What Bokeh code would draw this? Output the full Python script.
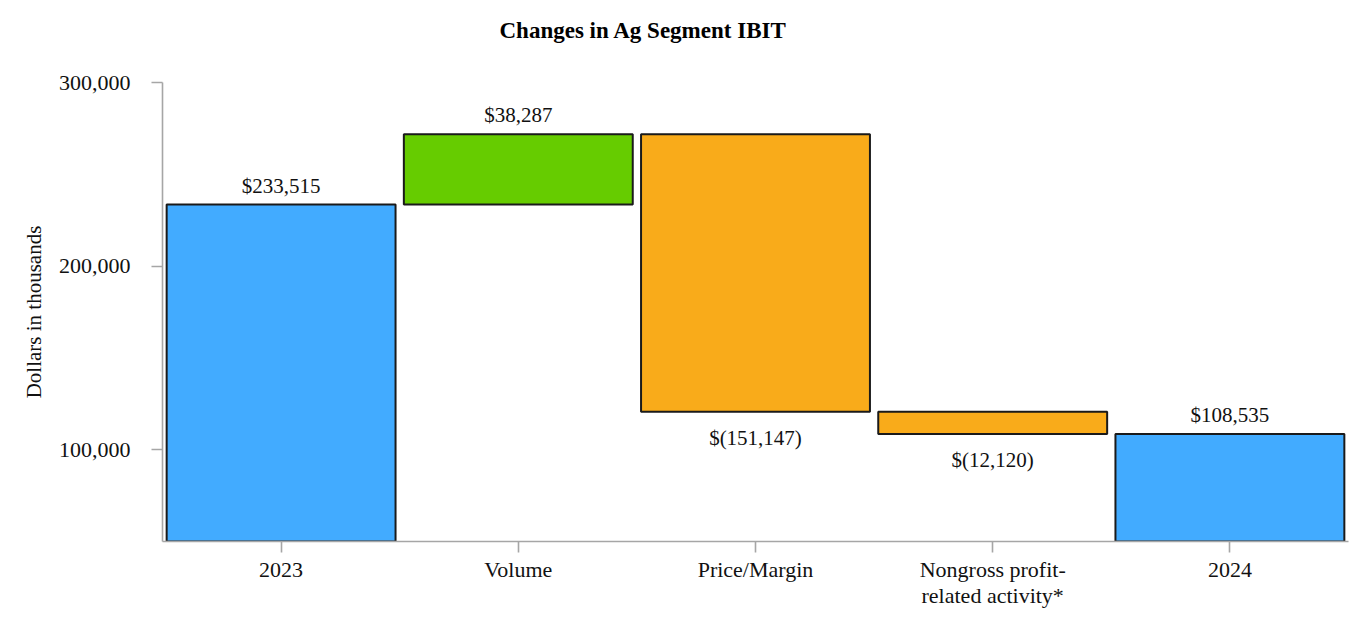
import numpy as np
from bokeh.plotting import figure
from bokeh.models import (ColumnDataSource, FactorRange, Range1d, FixedTicker,
                          NumeralTickFormatter, LabelSet)
from bokeh.embed import file_html
from bokeh.resources import INLINE

# ---------------- data ----------------
categories = ["2023", "Volume", "Price/Margin", "Nongross profit-\nrelated activity*", "2024"]
values = [233515, 38287, -151147, -12120, 108535]
is_total = [True, False, False, False, True]
y_ticks = [100000, 200000, 300000]

# ---------------- styles ----------------
COLOR_TOTAL = "#42ABFF"
COLOR_UP = "#66CC00"
COLOR_DOWN = "#F9AB1A"
FONT = "Liberation Serif"

# ---------------- waterfall ----------------
bottoms, tops, colors, texts, up = [], [], [], [], []
running = 0
for v, t in zip(values, is_total):
    if t:
        b, e = 0, v
        running = v
        colors.append(COLOR_TOTAL)
    else:
        b, e = running, running + v
        running = e
        colors.append(COLOR_UP if v >= 0 else COLOR_DOWN)
    bottoms.append(min(b, e))
    tops.append(max(b, e))
    texts.append("${:,}".format(v) if v >= 0 else "$({:,})".format(-v))
    up.append(v >= 0)

src = ColumnDataSource(dict(cat=categories, bottom=bottoms, top=tops, color=colors))

up_src = ColumnDataSource(dict(
    cat=[c for c, u in zip(categories, up) if u],
    y=[t for t, u in zip(tops, up) if u],
    text=[s for s, u in zip(texts, up) if u],
))
dn_src = ColumnDataSource(dict(
    cat=[c for c, u in zip(categories, up) if not u],
    y=[b for b, u in zip(bottoms, up) if not u],
    text=[s for s, u in zip(texts, up) if not u],
))

p = figure(width=1352, height=618, output_backend="svg", toolbar_location=None,
           x_range=FactorRange(factors=categories, range_padding=0),
           y_range=Range1d(50000, 300000),
           min_border_left=162, min_border_right=4, min_border_top=81,
           min_border_bottom=77)

p.vbar(x="cat", bottom="bottom", top="top", width=0.965, source=src,
       fill_color="color", line_color="#1a1a1a", line_width=2)

p.add_layout(LabelSet(x="cat", y="y", text="text", source=up_src,
                      y_offset=12, text_align="center", text_baseline="alphabetic",
                      text_font=FONT, text_font_size="21px", text_color="#111111"))
p.add_layout(LabelSet(x="cat", y="y", text="text", source=dn_src,
                      y_offset=-14, text_align="center", text_baseline="top",
                      text_font=FONT, text_font_size="21px", text_color="#111111"))

p.title.text = "Changes in Ag Segment IBIT\n\u00a0"
p.title.align = "left"
p.title.offset = 337
p.title.text_font = FONT
p.title.text_font_size = "23px"
p.title.text_font_style = "bold"
p.title.text_color = "#000000"
p.title.standoff = 30

p.outline_line_color = None
p.xgrid.grid_line_color = None
p.ygrid.grid_line_color = None

for ax in (p.xaxis[0], p.yaxis[0]):
    ax.axis_line_color = "#A6A6A6"
    ax.axis_line_width = 1.6
    ax.major_tick_line_color = "#A6A6A6"
    ax.major_tick_line_width = 1.6
    ax.major_tick_in = 0
    ax.major_tick_out = 11
    ax.minor_tick_line_color = None
    ax.major_label_text_font = FONT
    ax.major_label_text_font_size = "22px"
    ax.major_label_text_color = "#111111"

p.yaxis.ticker = FixedTicker(ticks=y_ticks)
p.yaxis.formatter = NumeralTickFormatter(format="0,0")
p.yaxis.major_label_standoff = 21
p.yaxis.axis_label = "Dollars in thousands"
p.yaxis.axis_label_text_font = FONT
p.yaxis.axis_label_text_font_size = "21px"
p.yaxis.axis_label_text_font_style = "normal"
p.yaxis.axis_label_text_color = "#111111"
p.yaxis.axis_label_standoff = 10

p.xaxis.major_label_standoff = 4
p.xaxis.major_label_text_line_height = 1.05
p.xaxis.major_label_orientation = "horizontal"

open("out.html", "w").write(file_html(p, INLINE))
